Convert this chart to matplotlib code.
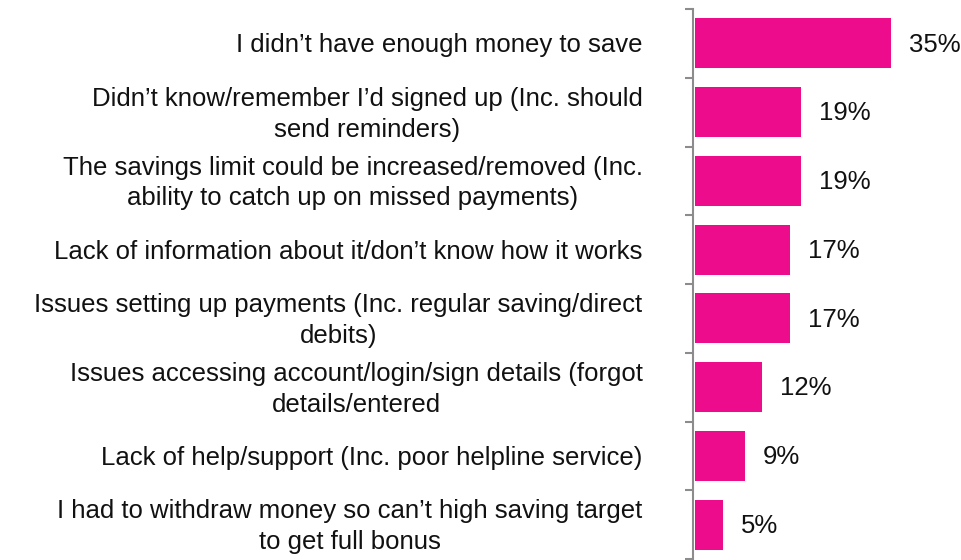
import matplotlib.pyplot as plt

labels = [
    "I didn\u2019t have enough money to save",
    "Didn\u2019t know/remember I\u2019d signed up (Inc. should\nsend reminders)",
    "The savings limit could be increased/removed (Inc.\nability to catch up on missed payments)",
    "Lack of information about it/don\u2019t know how it works",
    "Issues setting up payments (Inc. regular saving/direct\ndebits)",
    "Issues accessing account/login/sign details (forgot\ndetails/entered",
    "Lack of help/support (Inc. poor helpline service)",
    "I had to withdraw money so can\u2019t high saving target\nto get full bonus",
]
values = [35, 19, 19, 17, 17, 12, 9, 5]

plt.rcParams['font.family'] = ['Liberation Sans', 'DejaVu Sans']

fig = plt.figure(figsize=(9.62, 5.6), dpi=100)
ax = fig.add_axes([693 / 962, 1 / 560, 1 - 693 / 962, 550 / 560])

pos = list(range(len(values)))
bars = ax.barh(pos, values, height=0.73, color='#EC0C8C', left=0.3)
ax.set_ylim(len(values) - 0.5, -0.5)
ax.set_xlim(0, 269 / 5.6)

# value labels just past the bar ends
for i, (b, v) in enumerate(zip(bars, values)):
    ax.text(b.get_x() + b.get_width() + 3.2, i + 0.02, f"{v}%", va='center', ha='left',
            fontsize=18.5, color='#111111')

for i, lab in enumerate(labels):
    ax.text(-9.0, i + 0.03, lab, ha='right', va='center', multialignment='center',
            fontsize=18.5, color='#111111', linespacing=1.35)

for s in ['top', 'right', 'bottom']:
    ax.spines[s].set_visible(False)
ax.spines['left'].set_color('#8c8c8c')
ax.spines['left'].set_linewidth(1.5)

ax.set_xticks([])
ax.set_yticks([p - 0.5 for p in pos] + [len(values) - 0.5])
ax.set_yticklabels([])
ax.tick_params(axis='y', direction='out', length=6, width=1.5, color='#8c8c8c')

fig.savefig('out.png', dpi=100)
